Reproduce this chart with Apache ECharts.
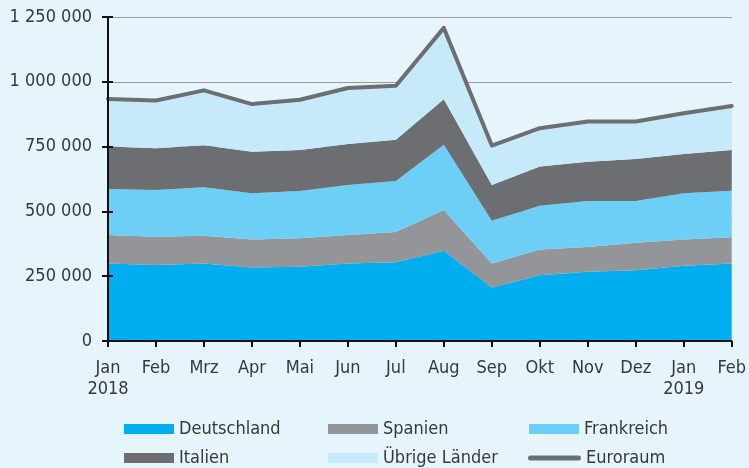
<!DOCTYPE html>
<html>
<head>
<meta charset="utf-8">
<script src="https://cdn.jsdelivr.net/npm/echarts@6/dist/echarts.min.js"></script>
<style>
  html, body { margin: 0; padding: 0; background: #e6f5fc; }
  #chart { width: 749px; height: 468px; }
</style>
</head>
<body>
<div id="chart"></div>
<script>
// Monate Jan 2018 - Feb 2019
var months = ["Jan\n2018", "Feb", "Mrz", "Apr", "Mai", "Jun", "Jul", "Aug", "Sep", "Okt", "Nov", "Dez", "Jan\n2019", "Feb"];

var deutschland = [299000, 293000, 299000, 284000, 286000, 299000, 304000, 348000, 206000, 254000, 267000, 273000, 290000, 299000];
var spanien     = [110000, 109000, 107000, 108000, 110000, 110000, 117000, 157000, 93000, 99000, 96000, 106000, 102000, 101000];
var frankreich  = [177000, 181000, 187000, 178000, 183000, 193000, 196000, 252000, 165000, 169000, 177000, 161000, 178000, 180000];
var italien     = [164000, 161000, 162000, 160000, 158000, 158000, 159000, 176000, 138000, 151000, 152000, 162000, 151000, 157000];
var uebrige     = [184000, 184000, 212000, 184000, 194000, 216000, 209000, 275000, 152000, 148000, 155000, 145000, 158000, 170000];
var euroraum    = [934000, 928000, 967000, 914000, 931000, 976000, 985000, 1208000, 754000, 821000, 847000, 847000, 879000, 907000];

var FONT = "'DejaVu Sans Condensed', 'Liberation Sans Narrow', sans-serif";
var TXT = "#383838";

function fmt(v) {
  return String(v).replace(/\B(?=(\d{3})+(?!\d))/g, " ");
}

function area(name, data, color) {
  return {
    name: name,
    type: "line",
    stack: "gesamt",
    data: data,
    symbol: "none",
    lineStyle: { width: 0 },
    areaStyle: { color: color, opacity: 1 },
    itemStyle: { color: color },
    emphasis: { disabled: true }
  };
}

// eine Legende pro Eintrag, damit die Spalten fest stehen
function legend(name, left, top, icon, w, h) {
  return {
    data: [{ name: name, icon: icon }],
    left: left,
    top: top,
    padding: 0,
    itemWidth: w || 50,
    itemHeight: h || 10,
    itemGap: 0,
    textStyle: { fontFamily: FONT, fontSize: 18, lineHeight: 20, color: TXT }
  };
}

var capsule = "path://M2.5,0 H50.5 A2.5,2.5 0 0 1 50.5,5 H2.5 A2.5,2.5 0 0 1 2.5,0 Z";

var chart = echarts.init(document.getElementById("chart"));
chart.setOption({
  backgroundColor: "#e6f5fc",
  animation: false,
  grid: { left: 108, right: 13, top: 17, bottom: 127, containLabel: false },
  legend: [
    legend("Deutschland", 124, 419, "rect"),
    legend("Spanien", 328, 419, "rect"),
    legend("Frankreich", 529, 419, "rect"),
    legend("Italien", 124, 448, "rect"),
    legend("Übrige Länder", 328, 448, "rect"),
    legend("Euroraum", 528, 448, capsule, 53, 5)
  ],
  xAxis: {
    type: "category",
    data: months,
    boundaryGap: false,
    axisLine: { lineStyle: { color: "#111", width: 2 } },
    axisTick: { show: true, length: 6, lineStyle: { color: "#111", width: 2 } },
    axisLabel: {
      interval: 0,
      margin: 17,
      fontFamily: FONT,
      fontSize: 18,
      lineHeight: 21,
      color: TXT
    },
    z: 10
  },
  yAxis: [
    {
      type: "value",
      position: "left",
      min: 0,
      max: 1250000,
      interval: 250000,
      axisLine: { show: false },
      axisTick: { show: true, length: 6, lineStyle: { color: "#111", width: 2 } },
      axisLabel: {
        margin: 16,
        fontFamily: FONT,
        fontSize: 18,
        color: TXT,
        formatter: fmt
      },
      splitLine: { show: true, lineStyle: { color: "#999", width: 1 } }
    },
    {
      // nur Achsenlinie und innere Striche, über den Flächen
      type: "value",
      position: "left",
      offset: 0,
      min: 0,
      max: 1250000,
      interval: 250000,
      axisLine: { show: true, lineStyle: { color: "#111", width: 2 } },
      axisTick: { show: true, inside: true, length: 5, lineStyle: { color: "#111", width: 2 } },
      axisLabel: { show: false },
      splitLine: { show: false },
      z: 10
    }
  ],
  series: [
    area("Deutschland", deutschland, "#00aeef"),
    area("Spanien", spanien, "#939598"),
    area("Frankreich", frankreich, "#6dcff6"),
    area("Italien", italien, "#6d6e71"),
    area("Übrige Länder", uebrige, "#c7eafa"),
    {
      name: "Euroraum",
      type: "line",
      data: euroraum,
      symbol: "none",
      lineStyle: { color: "#6d6e71", width: 4, cap: "round", join: "round" },
      itemStyle: { color: "#6d6e71" },
      emphasis: { disabled: true },
      z: 5
    }
  ]
});
</script>
</body>
</html>
